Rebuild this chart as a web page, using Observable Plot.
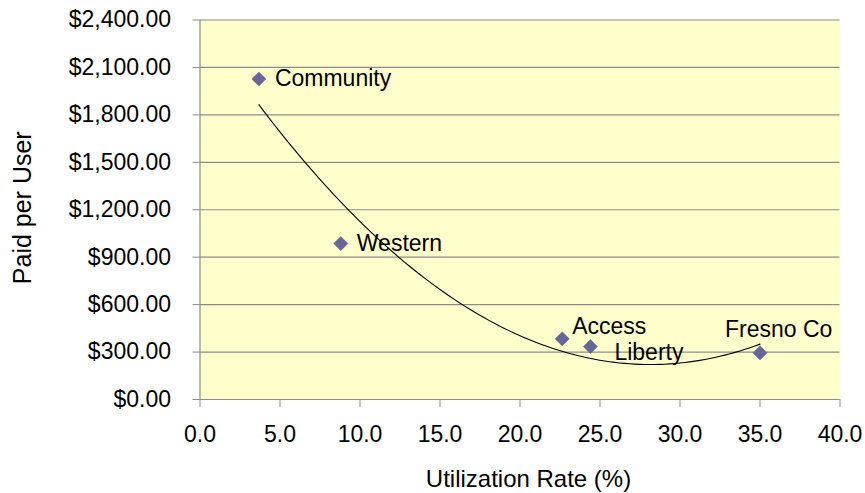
<!DOCTYPE html>
<html>
<head>
<meta charset="utf-8">
<script src="https://cdn.jsdelivr.net/npm/d3@7"></script>
<script src="https://cdn.jsdelivr.net/npm/@observablehq/plot@0.6"></script>
<style>
  html, body { margin: 0; padding: 0; background: #fff; }
  #chart svg { display: block; }
</style>
</head>
<body>
<div id="chart"></div>
<script>
// ---- data ----
const names = ["Community", "Western", "Access", "Liberty", "Fresno Co"];
const utilization = [3.68, 8.8, 22.64, 24.4, 35.0];
const paidPerUser = [2027, 986, 384, 335, 295];
const xTicks = [0, 5, 10, 15, 20, 25, 30, 35, 40];
const yTicks = [0, 300, 600, 900, 1200, 1500, 1800, 2100, 2400];

const points = names.map((n, i) => ({name: n, x: utilization[i], y: paidPerUser[i]}));

// order-2 polynomial least-squares trendline (as in the source chart)
function polyFit2(xs, ys) {
  let n = xs.length, s = [0,0,0,0,0], t = [0,0,0];
  for (let i = 0; i < n; i++) {
    const x = xs[i], y = ys[i];
    for (let k = 0; k <= 4; k++) s[k] += Math.pow(x, k);
    for (let k = 0; k <= 2; k++) t[k] += Math.pow(x, k) * y;
  }
  const A = [[s[0], s[1], s[2], t[0]], [s[1], s[2], s[3], t[1]], [s[2], s[3], s[4], t[2]]];
  for (let c = 0; c < 3; c++) {
    for (let r = c + 1; r < 3; r++) {
      const f = A[r][c] / A[c][c];
      for (let k = c; k < 4; k++) A[r][k] -= f * A[c][k];
    }
  }
  const b = [0,0,0];
  for (let r = 2; r >= 0; r--) {
    let v = A[r][3];
    for (let k = r + 1; k < 3; k++) v -= A[r][k] * b[k];
    b[r] = v / A[r][r];
  }
  return b;
}
const coef = polyFit2(utilization, paidPerUser);
const xMin = d3.min(utilization), xMax = d3.max(utilization);
const trend = d3.range(0, 101).map(i => {
  const x = xMin + (xMax - xMin) * i / 100;
  return {x, y: coef[0] + coef[1] * x + coef[2] * x * x};
});

// label placement (layout only)
const labelOffset = {
  "Community": {dx: 16, dy: 0, anchor: "start"},
  "Western": {dx: 16, dy: 0, anchor: "start"},
  "Access": {dx: 10, dy: -12, anchor: "start"},
  "Liberty": {dx: 24, dy: 6, anchor: "start"},
  "Fresno Co": {dx: -35, dy: -23, anchor: "start"}
};

const font = "Liberation Sans, Arial, sans-serif";
const grey = "#8c8c8c";

const labelMarks = names.map(n => Plot.text(points.filter(d => d.name === n), {
  x: "x", y: "y", text: "name",
  dx: labelOffset[n].dx, dy: labelOffset[n].dy, textAnchor: labelOffset[n].anchor,
  fontSize: 23, fill: "#000"
}));

const chart = Plot.plot({
  width: 865,
  height: 493,
  marginLeft: 199.5,
  marginRight: 25.5,
  marginTop: 19.5,
  marginBottom: 94,
  style: {fontFamily: font, fontSize: "23px", background: "#fff", color: "#000"},
  x: {domain: [0, 40], ticks: xTicks},
  y: {domain: [0, 2400], ticks: yTicks},
  marks: [
    Plot.frame({fill: "#FFFFCC", stroke: null}),
    Plot.gridY(yTicks, {stroke: grey, strokeOpacity: 1, strokeWidth: 1.2}),
    Plot.ruleX([0], {stroke: grey, strokeWidth: 1.2}),
    Plot.ruleY([0], {stroke: grey, strokeWidth: 1.2}),
    Plot.axisX(xTicks, {tickSize: 8, tickPadding: 18, stroke: grey, fill: "#000",
      tickFormat: d3.format(".1f"), fontSize: 23, label: null}),
    Plot.axisY(yTicks, {tickSize: 7, tickPadding: 22, stroke: grey, fill: "#000",
      tickFormat: d => "$" + d3.format(",.2f")(d), fontSize: 23, label: null}),
    Plot.line(trend, {x: "x", y: "y", stroke: "#000", strokeWidth: 1.1}),
    Plot.dot(points, {x: "x", y: "y", symbol: "diamond2", r: 6.4, fill: "#666699", stroke: "#666699", strokeWidth: 0.5}),
    ...labelMarks,
    Plot.text(["Utilization Rate (%)"], {frameAnchor: "bottom", dx: 8.5, dy: 87, fontSize: 24, fill: "#000"}),
    Plot.text(["Paid per User"], {frameAnchor: "left", textAnchor: "middle", rotate: -90, dx: -177.5, dy: -2, fontSize: 25, fill: "#000"})
  ]
});
document.getElementById("chart").appendChild(chart);
</script>
</body>
</html>
